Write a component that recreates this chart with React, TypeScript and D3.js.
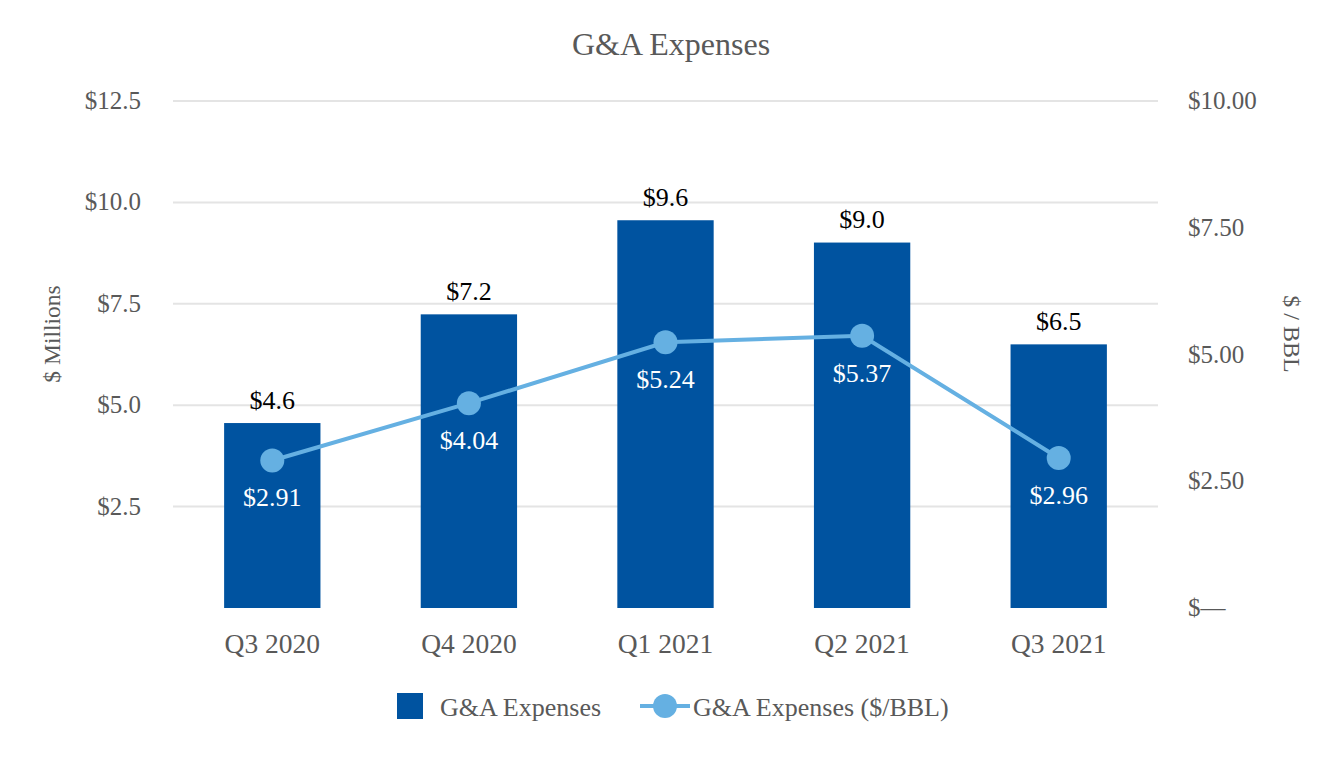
import React from "react";
import * as d3 from "d3";

const categories = ["Q3 2020", "Q4 2020", "Q1 2021", "Q2 2021", "Q3 2021"];
const expenses = [4.56, 7.24, 9.56, 9.01, 6.5];
const perBbl = [2.91, 4.04, 5.24, 5.37, 2.96];
const leftTicks = [2.5, 5.0, 7.5, 10.0, 12.5];
const rightTicks = [0, 2.5, 5.0, 7.5, 10.0];

const W = 1344;
const H = 760;
const FONT = "'Liberation Serif', 'Times New Roman', serif";
const GREY = "#595959";
const BAR = "#0053A0";
const LINE = "#65B0E2";

export default function App() {
  const left = 173, right = 1158, top = 101, bottom = 608;
  const x = d3.scaleBand().domain(categories).range([left, right]).paddingInner(0.51).paddingOuter(0.26);
  const yL = d3.scaleLinear().domain([0, 12.5]).range([bottom, top]);
  const yR = d3.scaleLinear().domain([0, 10]).range([bottom, top]);
  const cx = (c: string) => (x(c) as number) + x.bandwidth() / 2;
  const line = d3.line<number>().x((_, i) => cx(categories[i])).y((d) => yR(d));

  return (
    <svg width={W} height={H} style={{ position: "absolute", left: 0, top: 0, background: "#fff" }} fontFamily={FONT}>
      <rect width={W} height={H} fill="#fff" />
      <text x={671} y={55} textAnchor="middle" fontSize={32} fill={GREY}>G&amp;A Expenses</text>
      {leftTicks.map((t) => (
        <g key={t}>
          <line x1={left} x2={right} y1={yL(t)} y2={yL(t)} stroke="#E4E4E4" strokeWidth={2} />
          <text x={141} y={yL(t) + 8} textAnchor="end" fontSize={25} fill={GREY}>${t.toFixed(1)}</text>
        </g>
      ))}
      {rightTicks.map((t) => (
        <text key={t} x={1188} y={yR(t) + 8} fontSize={25} fill={GREY}>
          {t === 0 ? "$—" : "$" + t.toFixed(2)}
        </text>
      ))}
      <text transform={`translate(52,334) rotate(-90)`} textAnchor="middle" dominantBaseline="central" fontSize={23.5} fill={GREY}>$ Millions</text>
      <text transform={`translate(1292,334) rotate(90)`} textAnchor="middle" dominantBaseline="central" fontSize={24} fill={GREY}>$ / BBL</text>
      {categories.map((c, i) => (
        <g key={c}>
          <rect x={x(c)} y={yL(expenses[i])} width={x.bandwidth()} height={bottom - yL(expenses[i])} fill={BAR} />
          <text x={cx(c)} y={yL(expenses[i]) - 14.5} textAnchor="middle" fontSize={26} fill="#000">${expenses[i].toFixed(1)}</text>
          <text x={cx(c)} y={653} textAnchor="middle" fontSize={27.5} fill={GREY}>{c}</text>
        </g>
      ))}
      <path d={line(perBbl) || ""} fill="none" stroke={LINE} strokeWidth={4} />
      {categories.map((c, i) => (
        <g key={c + "p"}>
          <circle cx={cx(c)} cy={yR(perBbl[i])} r={12} fill={LINE} />
          <text x={cx(c)} y={yR(perBbl[i]) + 46} textAnchor="middle" fontSize={26} fill="#fff">${perBbl[i].toFixed(2)}</text>
        </g>
      ))}
      <rect x={397} y={693} width={26} height={26} fill={BAR} />
      <text x={440} y={716} fontSize={26} fill={GREY}>G&amp;A Expenses</text>
      <line x1={640} x2={690} y1={706} y2={706} stroke={LINE} strokeWidth={4} />
      <circle cx={665} cy={706} r={12} fill={LINE} />
      <text x={693} y={716} fontSize={26} fill={GREY}>G&amp;A Expenses ($/BBL)</text>
    </svg>
  );
}
